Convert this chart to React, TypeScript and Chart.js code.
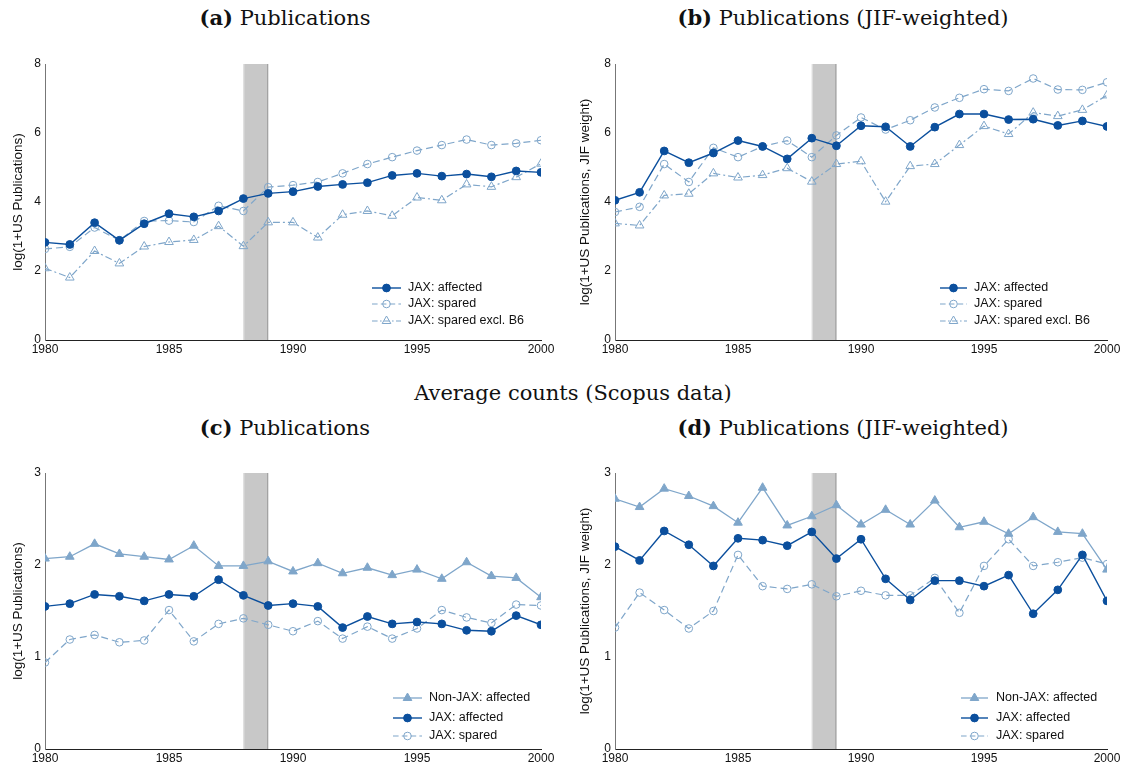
import React, { useEffect, useRef } from 'react';
import { Chart, registerables } from 'chart.js';

Chart.register(...registerables);

const years = [1980, 1981, 1982, 1983, 1984, 1985, 1986, 1987, 1988, 1989, 1990, 1991, 1992, 1993, 1994, 1995, 1996, 1997, 1998, 1999, 2000];

// Panel (a): Publications
const aAffected = [2.83, 2.77, 3.40, 2.89, 3.37, 3.66, 3.57, 3.74, 4.10, 4.25, 4.30, 4.45, 4.51, 4.56, 4.77, 4.83, 4.75, 4.81, 4.73, 4.90, 4.86];
const aSpared = [2.64, 2.70, 3.26, 2.89, 3.45, 3.46, 3.42, 3.89, 3.74, 4.43, 4.49, 4.58, 4.83, 5.10, 5.30, 5.49, 5.65, 5.81, 5.65, 5.70, 5.79];
const aSparedExB6 = [2.08, 1.81, 2.58, 2.22, 2.71, 2.84, 2.90, 3.30, 2.72, 3.41, 3.41, 2.97, 3.63, 3.74, 3.60, 4.13, 4.05, 4.51, 4.44, 4.72, 5.11];

// Panel (b): Publications (JIF-weighted)
const bAffected = [4.05, 4.28, 5.48, 5.14, 5.42, 5.78, 5.61, 5.25, 5.85, 5.63, 6.21, 6.18, 5.61, 6.17, 6.55, 6.55, 6.39, 6.40, 6.22, 6.35, 6.19];
const bSpared = [3.71, 3.86, 5.10, 4.58, 5.57, 5.30, 5.61, 5.78, 5.30, 5.93, 6.45, 6.10, 6.37, 6.74, 7.02, 7.27, 7.22, 7.58, 7.26, 7.25, 7.47];
const bSparedExB6 = [3.38, 3.32, 4.19, 4.24, 4.83, 4.71, 4.78, 4.98, 4.59, 5.10, 5.18, 4.01, 5.04, 5.10, 5.65, 6.20, 5.97, 6.59, 6.49, 6.67, 7.09];

// Panel (c): Publications (Scopus averages)
const cNonJax = [2.07, 2.09, 2.23, 2.12, 2.09, 2.06, 2.21, 1.99, 1.99, 2.04, 1.93, 2.02, 1.91, 1.97, 1.89, 1.95, 1.85, 2.03, 1.88, 1.86, 1.65];
const cAffected = [1.55, 1.58, 1.68, 1.66, 1.61, 1.68, 1.66, 1.84, 1.67, 1.56, 1.58, 1.55, 1.32, 1.44, 1.36, 1.38, 1.36, 1.29, 1.28, 1.45, 1.35];
const cSpared = [0.94, 1.19, 1.24, 1.16, 1.18, 1.51, 1.17, 1.36, 1.42, 1.35, 1.28, 1.39, 1.20, 1.33, 1.20, 1.31, 1.51, 1.43, 1.37, 1.57, 1.56];

// Panel (d): Publications (JIF-weighted, Scopus averages)
const dNonJax = [2.72, 2.63, 2.83, 2.75, 2.64, 2.46, 2.84, 2.43, 2.53, 2.65, 2.44, 2.60, 2.44, 2.70, 2.41, 2.47, 2.34, 2.52, 2.36, 2.34, 1.95];
const dAffected = [2.20, 2.05, 2.37, 2.22, 1.99, 2.29, 2.27, 2.21, 2.36, 2.07, 2.28, 1.85, 1.62, 1.83, 1.83, 1.77, 1.89, 1.47, 1.73, 2.11, 1.61];
const dSpared = [1.32, 1.70, 1.51, 1.31, 1.50, 2.11, 1.77, 1.74, 1.79, 1.66, 1.72, 1.67, 1.67, 1.86, 1.48, 1.99, 2.28, 1.99, 2.03, 2.08, 2.01];

const bandStart = 1988;
const bandEnd = 1989;
const xTickStep = 5;

const DARK = '#0b4f9d';
const LIGHT = '#7fa6ca';
const SANS = '"Liberation Sans", Arial, sans-serif';
const SERIF = '"DejaVu Serif", serif';

type Series = {
  label: string;
  data: number[];
  color: string;
  dash: number[];
  style: 'circle' | 'triangle';
  filled: boolean;
  radius: number;
  width: number;
};

const affectedS = (data: number[]): Series => ({ label: 'JAX: affected', data, color: DARK, dash: [], style: 'circle', filled: true, radius: 3.9, width: 1.4 });
const sparedS = (data: number[]): Series => ({ label: 'JAX: spared', data, color: LIGHT, dash: [7, 4], style: 'circle', filled: false, radius: 3.8, width: 1.2 });
const exB6S = (data: number[]): Series => ({ label: 'JAX: spared excl. B6', data, color: LIGHT, dash: [7, 3, 2, 3], style: 'triangle', filled: false, radius: 5, width: 1.2 });
const nonJaxS = (data: number[]): Series => ({ label: 'Non-JAX: affected', data, color: LIGHT, dash: [], style: 'triangle', filled: true, radius: 5, width: 1.3 });

type PanelProps = {
  left: number; top: number; width: number; height: number;
  padTop: number; padRight: number; yWidth: number; xHeight: number;
  yMax: number; yStep: number; yTitle: string; titlePad: number;
  series: Series[];
  legendOffsets: [number, number, number];
  legendRows: number[];
};

function drawMarker(ctx: CanvasRenderingContext2D, s: Series, x: number, y: number) {
  ctx.save();
  ctx.setLineDash([]);
  ctx.lineWidth = 1;
  ctx.strokeStyle = s.color;
  ctx.fillStyle = s.color;
  ctx.beginPath();
  if (s.style === 'circle') {
    ctx.arc(x, y, s.radius, 0, Math.PI * 2);
  } else {
    const r = s.radius;
    ctx.moveTo(x, y - r);
    ctx.lineTo(x + Math.sin((2 * Math.PI) / 3) * r, y + r / 2);
    ctx.lineTo(x - Math.sin((2 * Math.PI) / 3) * r, y + r / 2);
    ctx.closePath();
  }
  if (s.filled) ctx.fill();
  ctx.stroke();
  ctx.restore();
}

function Panel(p: PanelProps) {
  const ref = useRef<HTMLCanvasElement>(null);
  useEffect(() => {
    if (!ref.current) return;
    const bandPlugin = {
      id: 'band',
      beforeDatasetsDraw(chart: any) {
        const { ctx, chartArea, scales } = chart;
        const x0 = scales.x.getPixelForValue(bandStart);
        const x1 = scales.x.getPixelForValue(bandEnd);
        ctx.save();
        ctx.fillStyle = '#c8c8c8';
        ctx.fillRect(x0, chartArea.top, x1 - x0, chartArea.bottom - chartArea.top);
        ctx.strokeStyle = '#e2e2e2';
        ctx.lineWidth = 1;
        ctx.beginPath();
        ctx.moveTo(x0 + 0.5, chartArea.top);
        ctx.lineTo(x0 + 0.5, chartArea.bottom);
        ctx.stroke();
        ctx.strokeStyle = '#9a9a9a';
        ctx.beginPath();
        ctx.moveTo(x1 - 0.5, chartArea.top);
        ctx.lineTo(x1 - 0.5, chartArea.bottom);
        ctx.stroke();
        ctx.restore();
      },
    };
    const legendPlugin = {
      id: 'insetLegend',
      afterDraw(chart: any) {
        const { ctx, chartArea } = chart;
        const [l0, l1, t0] = p.legendOffsets;
        p.series.forEach((s, i) => {
          const y = chartArea.bottom - p.legendRows[i];
          const xa = chartArea.left + l0;
          const xb = chartArea.left + l1;
          ctx.save();
          ctx.strokeStyle = s.color;
          ctx.lineWidth = s.width;
          ctx.setLineDash(s.dash.length ? s.dash.map((d) => d * 0.8) : []);
          ctx.beginPath();
          ctx.moveTo(xa, y);
          ctx.lineTo(xb, y);
          ctx.stroke();
          ctx.restore();
          drawMarker(ctx, s, (xa + xb) / 2, y);
          ctx.save();
          ctx.fillStyle = '#111';
          ctx.font = `12.5px ${SANS}`;
          ctx.textBaseline = 'middle';
          ctx.textAlign = 'left';
          ctx.fillText(s.label, chartArea.left + t0, y);
          ctx.restore();
        });
      },
    };
    const chart = new Chart(ref.current, {
      type: 'line',
      data: {
        datasets: p.series.map((s) => ({
          label: s.label,
          data: years.map((yr, i) => ({ x: yr, y: s.data[i] })),
          borderColor: s.color,
          borderWidth: s.width,
          borderDash: s.dash,
          pointStyle: s.style,
          pointRadius: s.radius,
          pointBorderColor: s.color,
          pointBorderWidth: 1,
          pointBackgroundColor: s.filled ? s.color : 'rgba(0,0,0,0)',
          tension: 0,
          fill: false,
        })),
      },
      options: {
        animation: false,
        responsive: false,
        maintainAspectRatio: false,
        layout: { padding: { left: 0, top: p.padTop, right: p.padRight, bottom: 0 } },
        plugins: { legend: { display: false }, tooltip: { enabled: false } },
        scales: {
          x: {
            type: 'linear',
            min: 1980,
            max: 2000,
            grid: { display: false, drawTicks: false },
            border: { color: '#222', width: 1 },
            ticks: {
              stepSize: xTickStep,
              autoSkip: false,
              maxRotation: 0,
              padding: 2,
              color: '#111',
              font: { family: SANS, size: 12 },
              callback: (v: any) => String(v),
            },
            afterFit: (s: any) => { s.height = p.xHeight; },
          },
          y: {
            type: 'linear',
            min: 0,
            max: p.yMax,
            grid: { display: false, drawTicks: false },
            border: { color: '#777', width: 1 },
            ticks: {
              stepSize: p.yStep,
              padding: 4,
              color: '#111',
              font: { family: SANS, size: 12 },
              callback: (v: any) => String(v),
            },
            title: {
              display: true,
              text: p.yTitle,
              color: '#111',
              font: { family: SANS, size: 13.5 },
              padding: { top: p.titlePad, bottom: 0 },
            },
            afterFit: (s: any) => { s.width = p.yWidth; },
          },
        },
      } as any,
      plugins: [bandPlugin, legendPlugin],
    });
    return () => chart.destroy();
  }, []);
  return (
    <canvas
      ref={ref}
      width={p.width}
      height={p.height}
      style={{ position: 'absolute', left: p.left, top: p.top, width: p.width, height: p.height, display: 'block' }}
    />
  );
}

function Title({ x, y, label, text }: { x: number; y: number; label?: string; text: string }) {
  return (
    <div
      style={{
        position: 'absolute',
        left: x - 300,
        top: y - 13,
        width: 600,
        height: 26,
        lineHeight: '26px',
        textAlign: 'center',
        fontFamily: SERIF,
        fontSize: 21,
        color: '#111',
        whiteSpace: 'nowrap',
      }}
    >
      {label ? <b>{label}</b> : null}
      {label ? ' ' : ''}
      {text}
    </div>
  );
}

export default function App() {
  const topLegendRows = [52, 36, 19];
  const botLegendRows = [51, 31, 13];
  return (
    <div style={{ position: 'absolute', left: 0, top: 0, width: 1126, height: 768, background: '#fff', overflow: 'hidden' }}>
      <Title x={285} y={18} label="(a)" text="Publications" />
      <Title x={843} y={18} label="(b)" text="Publications (JIF-weighted)" />
      <Title x={573} y={393} text="Average counts (Scopus data)" />
      <Title x={285} y={428} label="(c)" text="Publications" />
      <Title x={843} y={428} label="(d)" text="Publications (JIF-weighted)" />

      <Panel
        left={0} top={50} width={560} height={310}
        padTop={14} padRight={19} yWidth={45} xHeight={20}
        yMax={8} yStep={2} yTitle="log(1+US Publications)" titlePad={10}
        series={[affectedS(aAffected), sparedS(aSpared), exB6S(aSparedExB6)]}
        legendOffsets={[327, 356, 363]} legendRows={topLegendRows}
      />
      <Panel
        left={563} top={50} width={563} height={310}
        padTop={14} padRight={19} yWidth={52} xHeight={20}
        yMax={8} yStep={2} yTitle="log(1+US Publications, JIF weight)" titlePad={14}
        series={[affectedS(bAffected), sparedS(bSpared), exB6S(bSparedExB6)]}
        legendOffsets={[325, 352, 359]} legendRows={topLegendRows}
      />
      <Panel
        left={0} top={460} width={560} height={308}
        padTop={13} padRight={19} yWidth={45} xHeight={19}
        yMax={3} yStep={1} yTitle="log(1+US Publications)" titlePad={10}
        series={[nonJaxS(cNonJax), affectedS(cAffected), sparedS(cSpared)]}
        legendOffsets={[348, 377, 384]} legendRows={botLegendRows}
      />
      <Panel
        left={563} top={460} width={563} height={308}
        padTop={13} padRight={19} yWidth={52} xHeight={19}
        yMax={3} yStep={1} yTitle="log(1+US Publications, JIF weight)" titlePad={14}
        series={[nonJaxS(dNonJax), affectedS(dAffected), sparedS(dSpared)]}
        legendOffsets={[346, 373, 381]} legendRows={botLegendRows}
      />
    </div>
  );
}
